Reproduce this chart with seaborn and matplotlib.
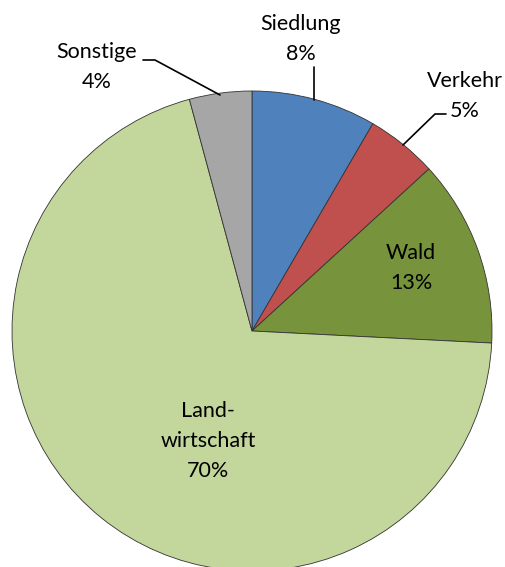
import matplotlib
matplotlib.use("Agg")
import matplotlib.pyplot as plt
import seaborn as sns

categories = ["Siedlung", "Verkehr", "Wald", "Land-\nwirtschaft", "Sonstige"]
values = [8.4, 4.8, 12.6, 70.0, 4.2]
colors = ["#4F81BD", "#C0504D", "#77933C", "#C3D69B", "#A6A6A6"]

sns.set_theme(style="white")
plt.rcParams['font.family'] = ['Lato', 'DejaVu Sans']

W, H = 505, 567
CX, CY, R = 252, 331, 240

def d(px, py):
    return ((px - CX) / R, (CY - py) / R)

fig = plt.figure(figsize=(W / 100, H / 100), dpi=100)
ax = fig.add_axes([0, 0, 1, 1])
ax.pie(values, colors=sns.color_palette(colors), startangle=90, counterclock=False,
       radius=1, center=(0, 0),
       wedgeprops=dict(edgecolor="#333333", linewidth=0.6))
ax.set_xlim(-CX / R, (W - CX) / R)
ax.set_ylim(-(H - CY) / R, CY / R)
ax.set_aspect("equal")
ax.axis("off")

fs = 15.5
label_pos = [(301, 39), (465, 96), (411, 268), (208, 441), (97, 67)]
for cat, v, (px, py) in zip(categories, values, label_pos):
    x, y = d(px, py)
    ax.text(x, y, f"{cat}\n{v:.0f}%", ha="center", va="center", fontsize=fs,
            linespacing=1.6, color="black")

leaders = [
    [(314, 67), (314, 100)],
    [(446, 114), (435, 114), (403, 145)],
    [(143, 60), (155, 60), (220, 95)],
]
for pts in leaders:
    xs, ys = zip(*[d(px, py) for px, py in pts])
    ax.plot(xs, ys, color="black", linewidth=1.2)

fig.savefig("out.png", dpi=100)
